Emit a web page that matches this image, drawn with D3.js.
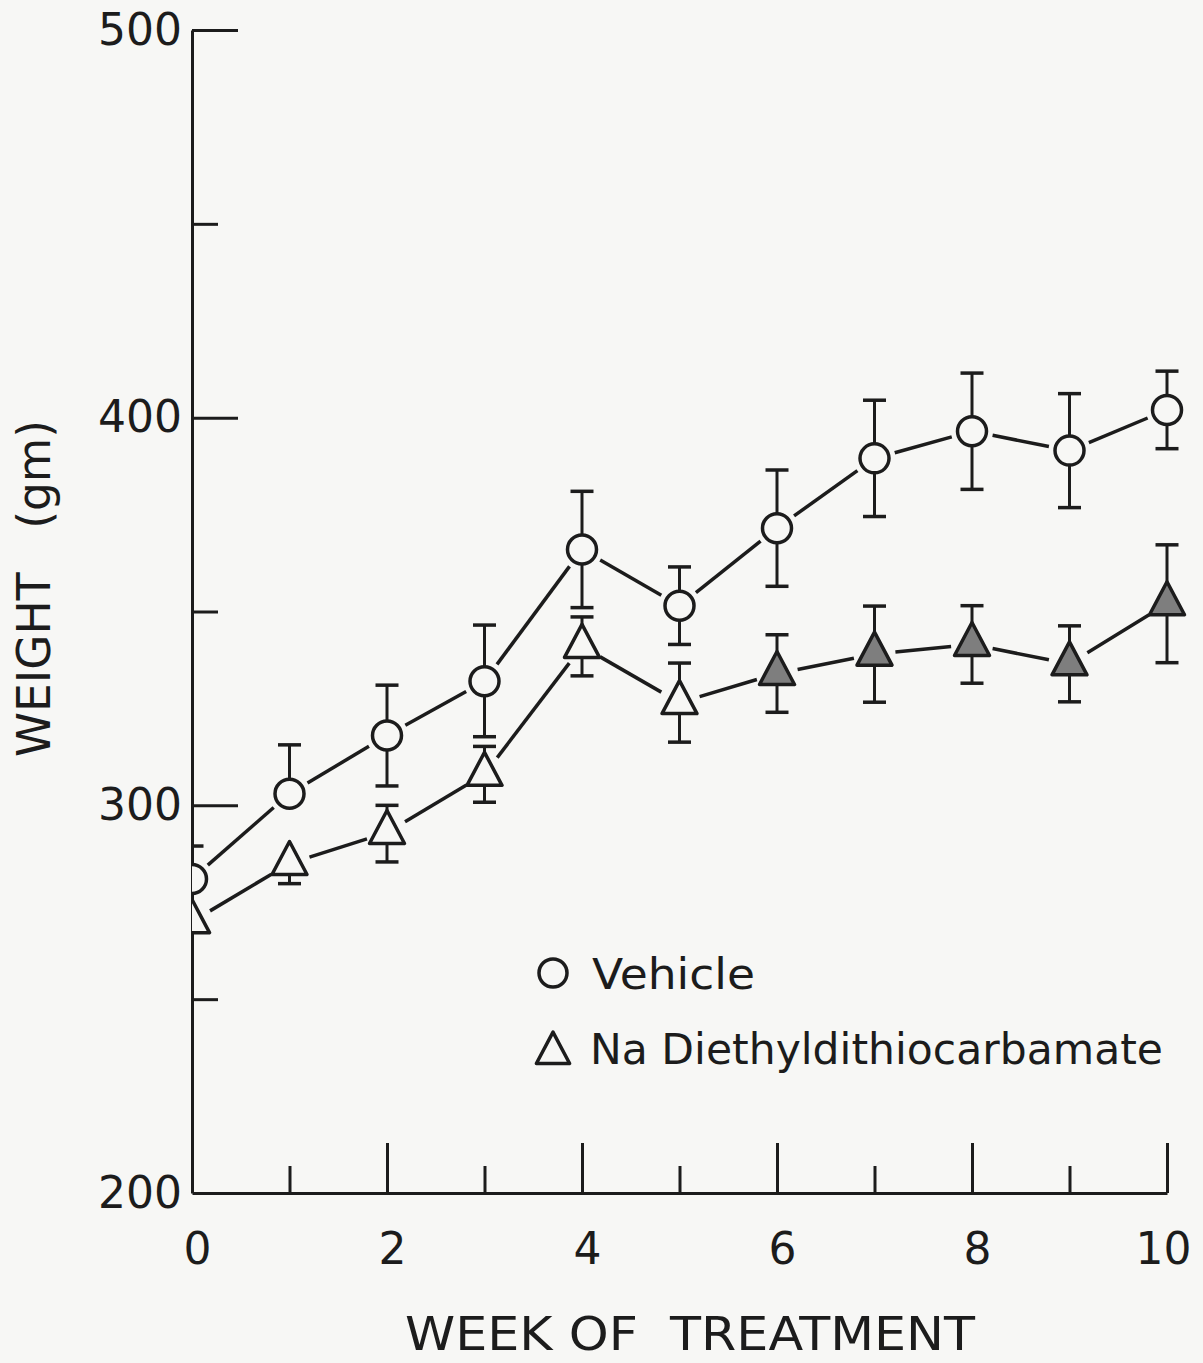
<!DOCTYPE html>
<html>
<head>
<meta charset="utf-8">
<script src="https://cdn.jsdelivr.net/npm/d3@7"></script>
<style>
  html, body { margin: 0; padding: 0; background: #f7f7f5; }
  svg { display: block; }
  text { font-family: "DejaVu Sans", sans-serif; fill: #1c1c1c; }
</style>
</head>
<body>
<svg id="chart" width="1203" height="1363"></svg>
<script>
// ---- data ----
const weeks = [0, 1, 2, 3, 4, 5, 6, 7, 8, 9, 10];
const vehicleMean   = [281, 303, 318, 332, 366, 351.5, 371.5, 389.5, 396.5, 391.5, 402];
const vehicleErrUp  = [8.5, 12.6, 13, 14.5, 15, 10, 15, 15, 15, 14.7, 10];
const vehicleErrDn  = [0, 0, 13, 14.3, 15, 10, 15, 15, 15, 14.7, 10];
const ddcMean   = [270, 285, 293, 308, 341, 326.5, 334, 339, 341.5, 336.5, 352];
const ddcErrUp  = [0, 0, 7, 7.2, 7.6, 10.2, 10, 12.4, 10, 9.8, 15.2];
const ddcErrDn  = [0, 5.2, 7.6, 7.2, 7.6, 10.2, 10, 12.4, 10, 9.8, 15.2];
const ddcFilled = [false, false, false, false, false, false, true, true, true, true, true];
const yMajorTicks = [200, 300, 400, 500];
const yMinorTicks = [250, 350, 450];
const xMajorTicks = [0, 2, 4, 6, 8, 10];
const xMinorTicks = [1, 3, 5, 7, 9];
const xTickLabels = ["0", "2", "4", "6", "8", "10"];
const legendLabels = ["Vehicle", "Na Diethyldithiocarbamate"];
const xTitle = "WEEK OF  TREATMENT";
const yTitle = "WEIGHT   (gm)";

// ---- layout ----
const ink = "#1c1c1c";
const svg = d3.select("#chart");
const x = d3.scaleLinear().domain([0, 10]).range([192, 1167]);
const y = d3.scaleLinear().domain([200, 500]).range([1193, 30]);

svg.append("rect").attr("width", 1203).attr("height", 1363).attr("fill", "#f7f7f5");

svg.append("clipPath").attr("id", "plotclip")
  .append("rect").attr("x", x(0)).attr("y", 0).attr("width", 1203 - x(0)).attr("height", y(200));

// ---- axes ----
function styleAxis(g) {
  g.selectAll("path.domain").attr("stroke", ink).attr("stroke-width", 3);
  g.selectAll(".tick line").attr("stroke", ink).attr("stroke-width", 3);
}
const yMaj = svg.append("g").attr("transform", `translate(${x(0)},0)`)
  .call(d3.axisLeft(y).tickValues(yMajorTicks).tickSizeInner(-46).tickSizeOuter(0).tickPadding(10).tickFormat(d3.format("d")));
styleAxis(yMaj);
yMaj.selectAll(".tick text").attr("font-size", 44).attr("fill", ink).attr("font-family", "DejaVu Sans");
yMaj.selectAll(".tick").filter(d => d === 200).select("line").remove();

const yMin = svg.append("g").attr("transform", `translate(${x(0)},0)`)
  .call(d3.axisLeft(y).tickValues(yMinorTicks).tickSizeInner(-26).tickSizeOuter(0).tickFormat(""));
styleAxis(yMin);
yMin.select("path.domain").remove();

const xMaj = svg.append("g").attr("transform", `translate(0,${y(200)})`)
  .call(d3.axisBottom(x).tickValues(xMajorTicks).tickSizeInner(-50).tickSizeOuter(0).tickPadding(40)
    .tickFormat((d, i) => xTickLabels[i]));
styleAxis(xMaj);
xMaj.selectAll(".tick text").attr("font-size", 44).attr("fill", ink).attr("font-family", "DejaVu Sans")
  .attr("dx", d => d === 10 ? -4 : 5);
xMaj.selectAll(".tick").filter(d => d === 0).select("line").remove();

const xMin = svg.append("g").attr("transform", `translate(0,${y(200)})`)
  .call(d3.axisBottom(x).tickValues(xMinorTicks).tickSizeInner(-27).tickSizeOuter(0).tickFormat(""));
styleAxis(xMin);
xMin.select("path.domain").remove();

// axis titles
svg.append("text").attr("x", 405).attr("y", 1350)
  .style("white-space", "pre")
  .attr("font-size", 46).attr("textLength", 570).attr("lengthAdjust", "spacingAndGlyphs")
  .text(xTitle);
svg.append("text").attr("transform", "translate(50,757) rotate(-90)")
  .style("white-space", "pre")
  .attr("font-size", 46).attr("textLength", 337).attr("lengthAdjust", "spacingAndGlyphs")
  .text(yTitle);

// ---- marks ----
const plot = svg.append("g").attr("clip-path", "url(#plotclip)");
const trim = 21;

function drawLine(means) {
  const pts = weeks.map((w, i) => [x(w), y(means[i])]);
  for (let i = 0; i < pts.length - 1; i++) {
    const [x1, y1] = pts[i], [x2, y2] = pts[i + 1];
    const dx = x2 - x1, dy = y2 - y1, L = Math.hypot(dx, dy);
    const ux = dx / L, uy = dy / L;
    plot.append("line")
      .attr("x1", x1 + ux * trim).attr("y1", y1 + uy * trim)
      .attr("x2", x2 - ux * trim).attr("y2", y2 - uy * trim)
      .attr("stroke", ink).attr("stroke-width", 3.5);
  }
}
function drawErr(means, up, dn) {
  weeks.forEach((w, i) => {
    const cx = x(w), cy = y(means[i]);
    if (up[i] > 0) {
      const ty = y(means[i] + up[i]);
      plot.append("line").attr("x1", cx).attr("x2", cx).attr("y1", cy).attr("y2", ty)
        .attr("stroke", ink).attr("stroke-width", 3);
      plot.append("line").attr("x1", cx - 11.5).attr("x2", cx + 11.5).attr("y1", ty).attr("y2", ty)
        .attr("stroke", ink).attr("stroke-width", 3.5);
    }
    if (dn[i] > 0) {
      const by = y(means[i] - dn[i]);
      plot.append("line").attr("x1", cx).attr("x2", cx).attr("y1", cy).attr("y2", by)
        .attr("stroke", ink).attr("stroke-width", 3);
      plot.append("line").attr("x1", cx - 11.5).attr("x2", cx + 11.5).attr("y1", by).attr("y2", by)
        .attr("stroke", ink).attr("stroke-width", 3.5);
    }
  });
}
function triPath(cx, cy, s) {
  s = s || 1;
  return `M${cx},${cy - 22 * s} L${cx + 17.5 * s},${cy + 11 * s} L${cx - 17.5 * s},${cy + 11 * s} Z`;
}

drawLine(vehicleMean);
drawLine(ddcMean);
drawErr(vehicleMean, vehicleErrUp, vehicleErrDn);
drawErr(ddcMean, ddcErrUp, ddcErrDn);

plot.selectAll("circle.veh").data(weeks).join("circle").attr("class", "veh")
  .attr("cx", d => x(d)).attr("cy", (d, i) => y(vehicleMean[i])).attr("r", 14.5)
  .attr("fill", "#f7f7f5").attr("stroke", ink).attr("stroke-width", 3.5);

plot.selectAll("path.ddc").data(weeks).join("path").attr("class", "ddc")
  .attr("d", (d, i) => triPath(x(d), y(ddcMean[i])))
  .attr("fill", (d, i) => ddcFilled[i] ? "#7e7e7e" : "#f7f7f5")
  .attr("stroke", ink).attr("stroke-width", 3.5).attr("stroke-linejoin", "round");

// ---- legend ----
const lg = svg.append("g");
lg.append("circle").attr("cx", 553).attr("cy", 973).attr("r", 14)
  .attr("fill", "none").attr("stroke", ink).attr("stroke-width", 3.5);
lg.append("path").attr("d", triPath(553, 1053, 0.95))
  .attr("fill", "none").attr("stroke", ink).attr("stroke-width", 3.5).attr("stroke-linejoin", "round");
lg.append("text").attr("x", 592).attr("y", 989).attr("font-size", 42)
  .attr("textLength", 163).attr("lengthAdjust", "spacingAndGlyphs").text(legendLabels[0]);
lg.append("text").attr("x", 590).attr("y", 1064).attr("font-size", 42)
  .attr("textLength", 573).attr("lengthAdjust", "spacingAndGlyphs").text(legendLabels[1]);
</script>
</body>
</html>
